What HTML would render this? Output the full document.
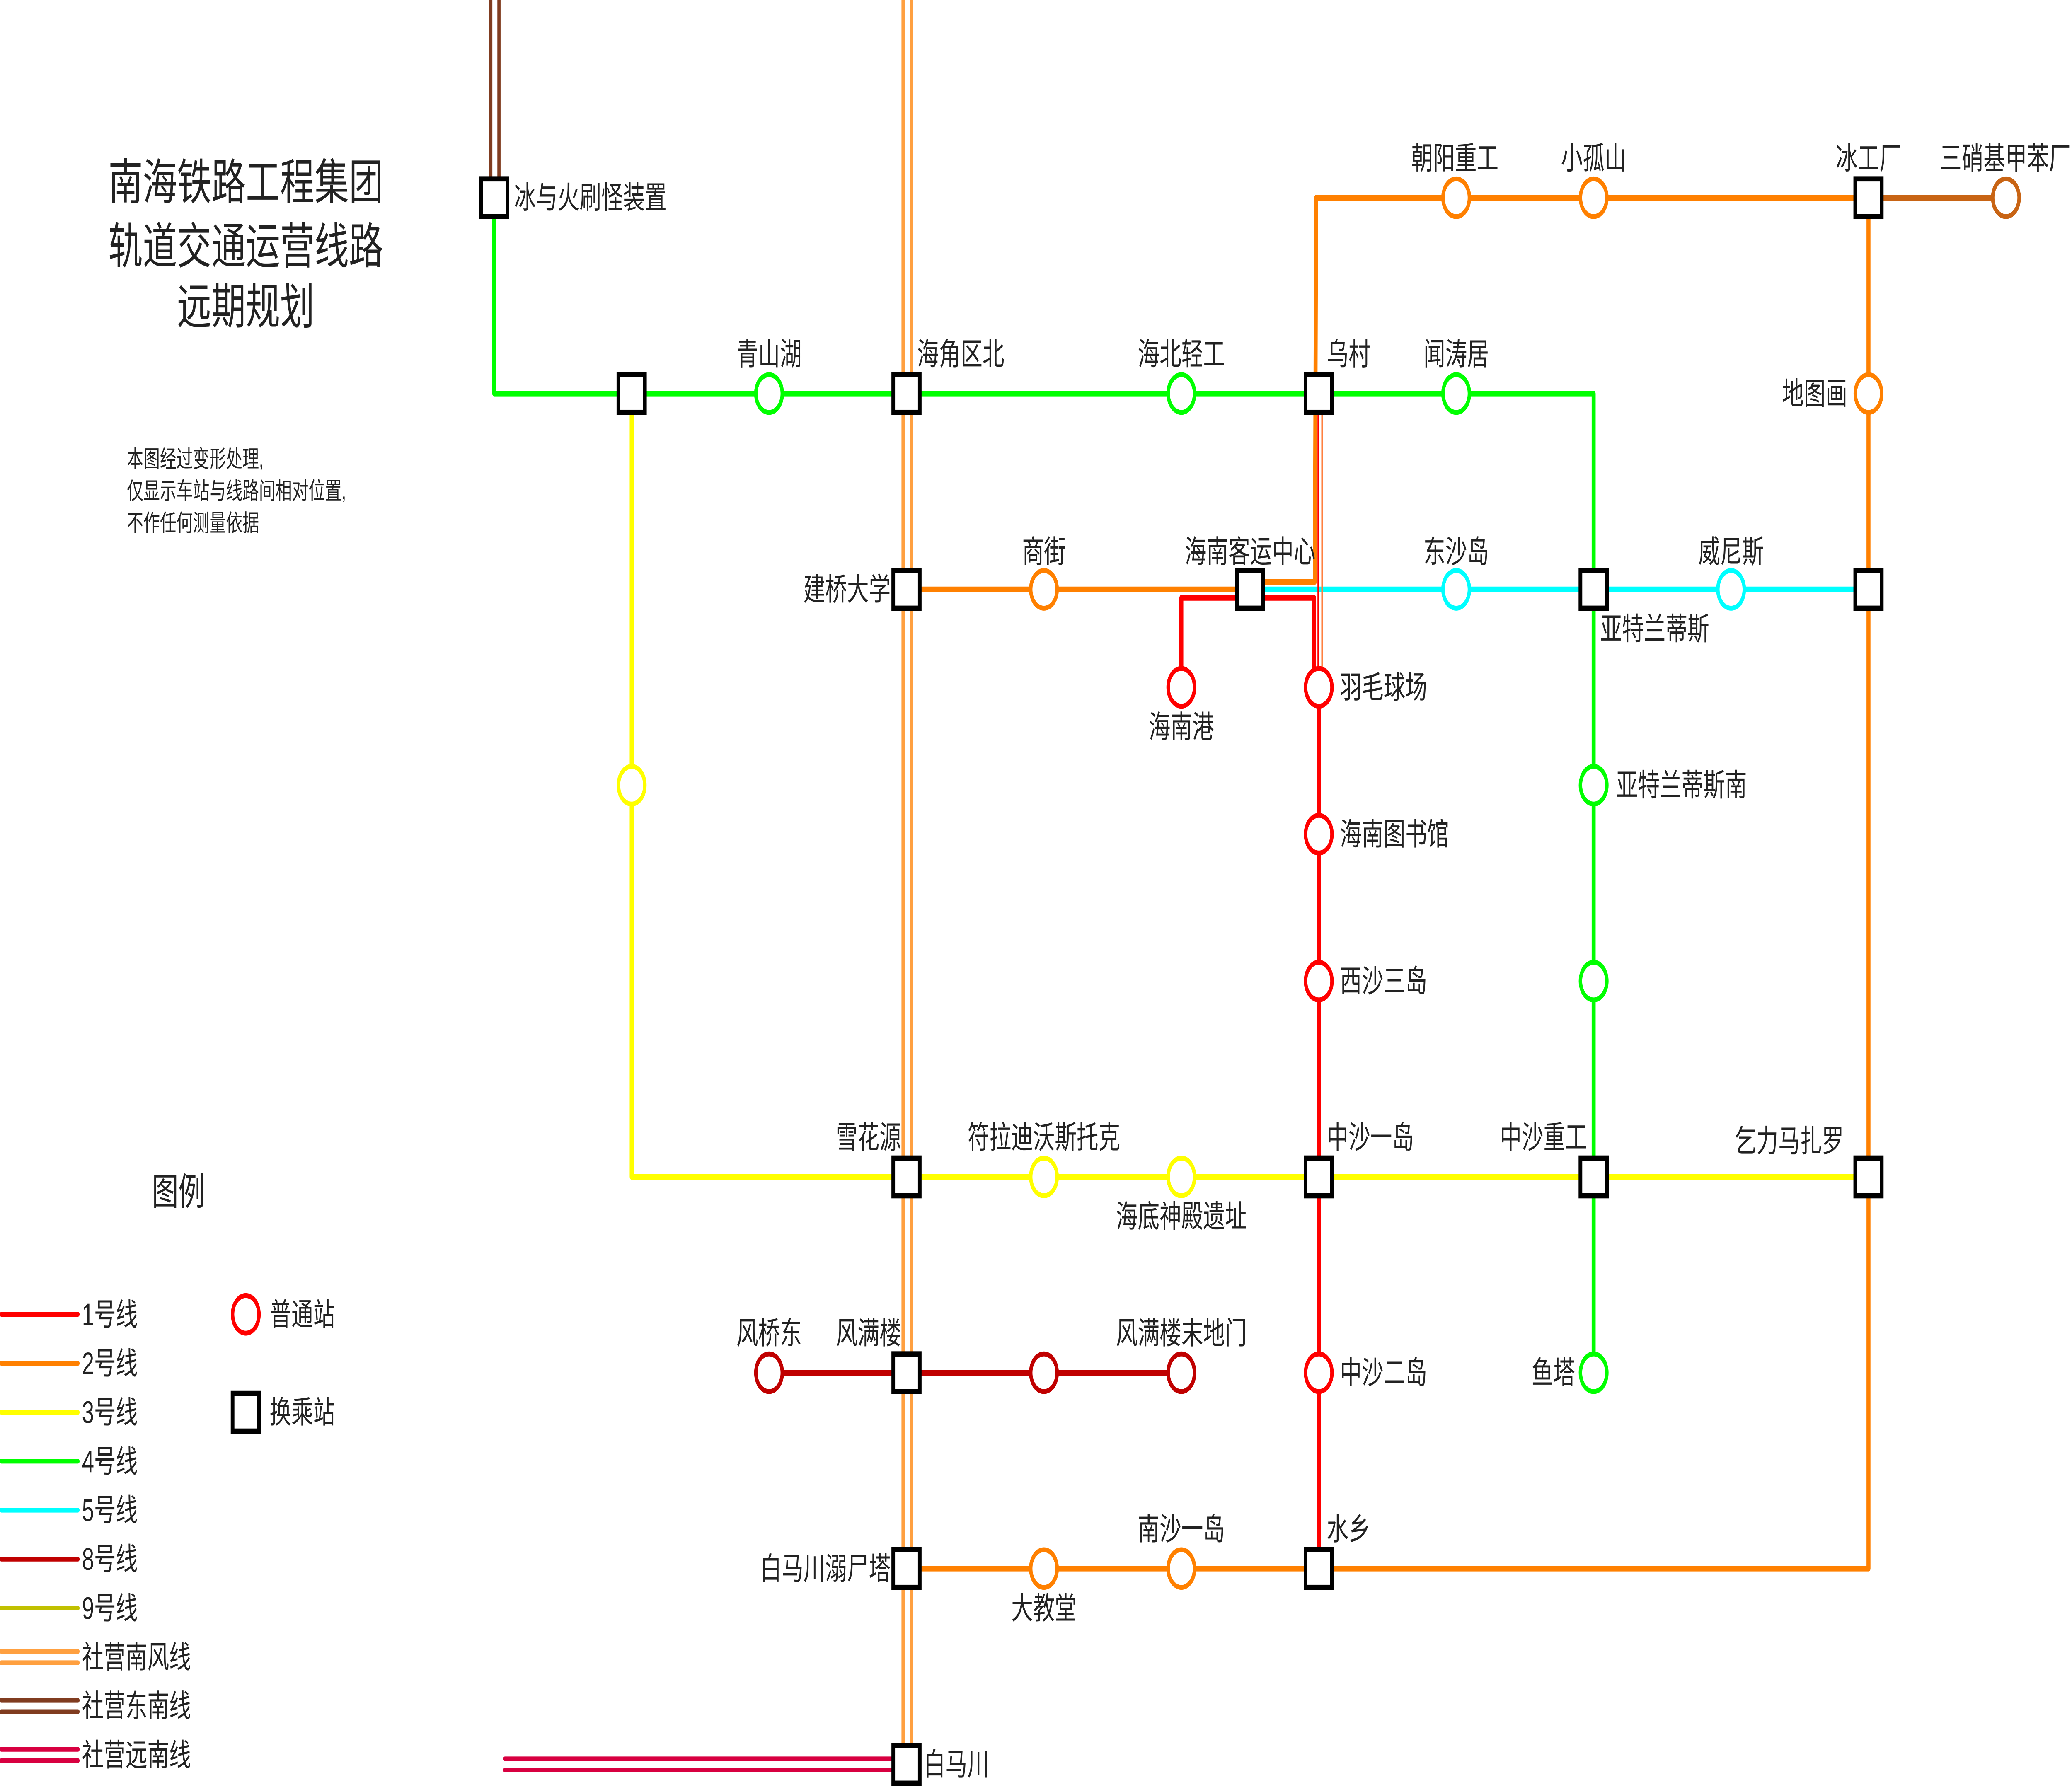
<!DOCTYPE html>
<html><head><meta charset="utf-8"><style>
html,body{margin:0;padding:0;background:#fff;width:100%;height:100%;overflow:hidden;}
svg{display:block;position:fixed;left:0;top:0;width:100vw;height:100vh;}
text{font-family:"Liberation Sans","Noto Sans CJK SC",sans-serif;fill:#222;dominant-baseline:central;}
</style></head><body>
<svg viewBox="0 0 1568 949" preserveAspectRatio="none" xmlns="http://www.w3.org/2000/svg">
<rect width="1568" height="949" fill="#fff"/>
<g fill="none" stroke-linecap="round" stroke-linejoin="round">
<line x1="371.4" y1="0" x2="371.4" y2="96" stroke="#803c20" stroke-width="2.4"/>
<line x1="377.6" y1="0" x2="377.6" y2="96" stroke="#803c20" stroke-width="2.4"/>
<polyline points="374,105 374,209 1206,209 1206,729" stroke="#00ff00" stroke-width="3"/>
<polyline points="478,209 478,625 1414,625" stroke="#ffff00" stroke-width="3"/>
<polyline points="686,313 946,313" stroke="#ff8000" stroke-width="3"/>
<polyline points="946,309 995,309 996,105 1414,105 1414,833 686,833" stroke="#ff8000" stroke-width="3"/>
<line x1="1414" y1="105" x2="1518" y2="105" stroke="#c86414" stroke-width="3"/>
<line x1="946" y1="313" x2="1414" y2="313" stroke="#00ffff" stroke-width="3"/>
<polyline points="894,365 894,317.5 994.5,317.5 994.5,365" stroke="#ff0000" stroke-width="3"/>
<line x1="998" y1="365" x2="998" y2="833" stroke="#ff0000" stroke-width="3"/>
<line x1="997.6" y1="209" x2="997.6" y2="360" stroke="#ff0000" stroke-width="1.2"/>
<line x1="1000.5" y1="209" x2="1000.5" y2="360" stroke="#ff8040" stroke-width="1.2"/>
<line x1="582" y1="729" x2="894" y2="729" stroke="#c00000" stroke-width="3"/>
<line x1="683.4" y1="0" x2="683.4" y2="937" stroke="#ffa040" stroke-width="2.4"/>
<line x1="689.6" y1="0" x2="689.6" y2="937" stroke="#ffa040" stroke-width="2.4"/>
<line x1="382" y1="934" x2="676" y2="934" stroke="#d80040" stroke-width="2.4"/>
<line x1="382" y1="940" x2="676" y2="940" stroke="#d80040" stroke-width="2.4"/>

<line x1="1" y1="698" x2="59" y2="698" stroke="#ff0000" stroke-width="2.5"/>
<line x1="1" y1="724" x2="59" y2="724" stroke="#ff8000" stroke-width="2.5"/>
<line x1="1" y1="750" x2="59" y2="750" stroke="#ffff00" stroke-width="2.5"/>
<line x1="1" y1="776" x2="59" y2="776" stroke="#00ff00" stroke-width="2.5"/>
<line x1="1" y1="802" x2="59" y2="802" stroke="#00ffff" stroke-width="2.5"/>
<line x1="1" y1="828" x2="59" y2="828" stroke="#c00000" stroke-width="2.5"/>
<line x1="1" y1="854" x2="59" y2="854" stroke="#c0c000" stroke-width="2.5"/>
<line x1="1" y1="877" x2="59" y2="877" stroke="#ffa040" stroke-width="2.5"/>
<line x1="1" y1="883" x2="59" y2="883" stroke="#ffa040" stroke-width="2.5"/>
<line x1="1" y1="903" x2="59" y2="903" stroke="#803c20" stroke-width="2.5"/>
<line x1="1" y1="909" x2="59" y2="909" stroke="#803c20" stroke-width="2.5"/>
<line x1="1" y1="929" x2="59" y2="929" stroke="#d80040" stroke-width="2.5"/>
<line x1="1" y1="935" x2="59" y2="935" stroke="#d80040" stroke-width="2.5"/>
</g>

<g fill="#fff" stroke-width="2.6">
<circle cx="582" cy="209" r="10" stroke="#00ff00"/>
<circle cx="894" cy="209" r="10" stroke="#00ff00"/>
<circle cx="1102" cy="209" r="10" stroke="#00ff00"/>
<circle cx="1206" cy="417" r="10" stroke="#00ff00"/>
<circle cx="1206" cy="521" r="10" stroke="#00ff00"/>
<circle cx="1206" cy="729" r="10" stroke="#00ff00"/>
<circle cx="478" cy="417" r="10" stroke="#ffff00"/>
<circle cx="790" cy="625" r="10" stroke="#ffff00"/>
<circle cx="894" cy="625" r="10" stroke="#ffff00"/>
<circle cx="1102" cy="105" r="10" stroke="#ff8000"/>
<circle cx="1206" cy="105" r="10" stroke="#ff8000"/>
<circle cx="1518" cy="105" r="10" stroke="#c86414"/>
<circle cx="1414" cy="209" r="10" stroke="#ff8000"/>
<circle cx="790" cy="313" r="10" stroke="#ff8000"/>
<circle cx="790" cy="833" r="10" stroke="#ff8000"/>
<circle cx="894" cy="833" r="10" stroke="#ff8000"/>
<circle cx="1102" cy="313" r="10" stroke="#00ffff"/>
<circle cx="1310" cy="313" r="10" stroke="#00ffff"/>
<circle cx="894" cy="365" r="10" stroke="#ff0000"/>
<circle cx="998" cy="365" r="10" stroke="#ff0000"/>
<circle cx="998" cy="443" r="10" stroke="#ff0000"/>
<circle cx="998" cy="521" r="10" stroke="#ff0000"/>
<circle cx="998" cy="729" r="10" stroke="#ff0000"/>
<circle cx="582" cy="729" r="10" stroke="#c00000"/>
<circle cx="790" cy="729" r="10" stroke="#c00000"/>
<circle cx="894" cy="729" r="10" stroke="#c00000"/>
<circle cx="186" cy="698" r="10" stroke="#ff0000"/>
</g>

<g fill="#fff" stroke="#000" stroke-width="2.8">
<rect x="364" y="95" width="20" height="20"/>
<rect x="468" y="199" width="20" height="20"/>
<rect x="676" y="199" width="20" height="20"/>
<rect x="988" y="199" width="20" height="20"/>
<rect x="1404" y="95" width="20" height="20"/>
<rect x="676" y="303" width="20" height="20"/>
<rect x="936" y="303" width="20" height="20"/>
<rect x="1196" y="303" width="20" height="20"/>
<rect x="1404" y="303" width="20" height="20"/>
<rect x="676" y="615" width="20" height="20"/>
<rect x="988" y="615" width="20" height="20"/>
<rect x="1196" y="615" width="20" height="20"/>
<rect x="1404" y="615" width="20" height="20"/>
<rect x="676" y="719" width="20" height="20"/>
<rect x="676" y="823" width="20" height="20"/>
<rect x="988" y="823" width="20" height="20"/>
<rect x="676" y="927" width="20" height="20"/>
<rect x="176" y="740" width="20" height="20"/>
</g>

<g font-size="26" text-anchor="middle">
<text x="186" y="97">南海铁路工程集团</text>
<text x="186" y="131">轨道交通运营线路</text>
<text x="186" y="163">远期规划</text>
</g>
<g font-size="12.5" style="fill:#444">
<text x="96" y="244">本图经过变形处理,</text>
<text x="96" y="261">仅显示车站与线路间相对位置,</text>
<text x="96" y="278">不作任何测量依据</text>
</g>
<text x="135" y="633" font-size="20" text-anchor="middle">图例</text>
<g font-size="16.5">
<text x="62" y="698">1号线</text>
<text x="62" y="724">2号线</text>
<text x="62" y="750">3号线</text>
<text x="62" y="776">4号线</text>
<text x="62" y="802">5号线</text>
<text x="62" y="828">8号线</text>
<text x="62" y="854">9号线</text>
<text x="62" y="880">社营南风线</text>
<text x="62" y="906">社营东南线</text>
<text x="62" y="932">社营远南线</text>
<text x="204" y="698">普通站</text>
<text x="204" y="750">换乘站</text>

<text x="389" y="105">冰与火刷怪装置</text>
<text x="582" y="188" text-anchor="middle">青山湖</text>
<text x="694" y="188">海角区北</text>
<text x="894" y="188" text-anchor="middle">海北轻工</text>
<text x="1004" y="188">乌村</text>
<text x="1102" y="188" text-anchor="middle">闻涛居</text>
<text x="1101" y="84" text-anchor="middle">朝阳重工</text>
<text x="1206" y="84" text-anchor="middle">小孤山</text>
<text x="1414" y="84" text-anchor="middle">冰工厂</text>
<text x="1567" y="84" text-anchor="end">三硝基甲苯厂</text>
<text x="1398" y="209" text-anchor="end">地图画</text>
<text x="674" y="313" text-anchor="end">建桥大学</text>
<text x="790" y="293" text-anchor="middle">商街</text>
<text x="946" y="293" text-anchor="middle">海南客运中心</text>
<text x="1102" y="293" text-anchor="middle">东沙岛</text>
<text x="1310" y="293" text-anchor="middle">威尼斯</text>
<text x="1211" y="334">亚特兰蒂斯</text>
<text x="894" y="386" text-anchor="middle">海南港</text>
<text x="1014" y="365">羽毛球场</text>
<text x="1014" y="443">海南图书馆</text>
<text x="1014" y="521">西沙三岛</text>
<text x="1223" y="417">亚特兰蒂斯南</text>
<text x="682" y="604" text-anchor="end">雪花源</text>
<text x="790" y="604" text-anchor="middle">符拉迪沃斯托克</text>
<text x="894" y="646" text-anchor="middle">海底神殿遗址</text>
<text x="1004" y="604">中沙一岛</text>
<text x="1168" y="604" text-anchor="middle">中沙重工</text>
<text x="1354" y="606" text-anchor="middle">乞力马扎罗</text>
<text x="582" y="708" text-anchor="middle">风桥东</text>
<text x="682" y="708" text-anchor="end">风满楼</text>
<text x="894" y="708" text-anchor="middle">风满楼末地门</text>
<text x="1014" y="729">中沙二岛</text>
<text x="1192" y="729" text-anchor="end">鱼塔</text>
<text x="674" y="833" text-anchor="end">白马川溺尸塔</text>
<text x="790" y="854" text-anchor="middle">大教堂</text>
<text x="894" y="812" text-anchor="middle">南沙一岛</text>
<text x="1004" y="812">水乡</text>
<text x="699" y="937">白马川</text>
</g>
</svg>
</body></html>
